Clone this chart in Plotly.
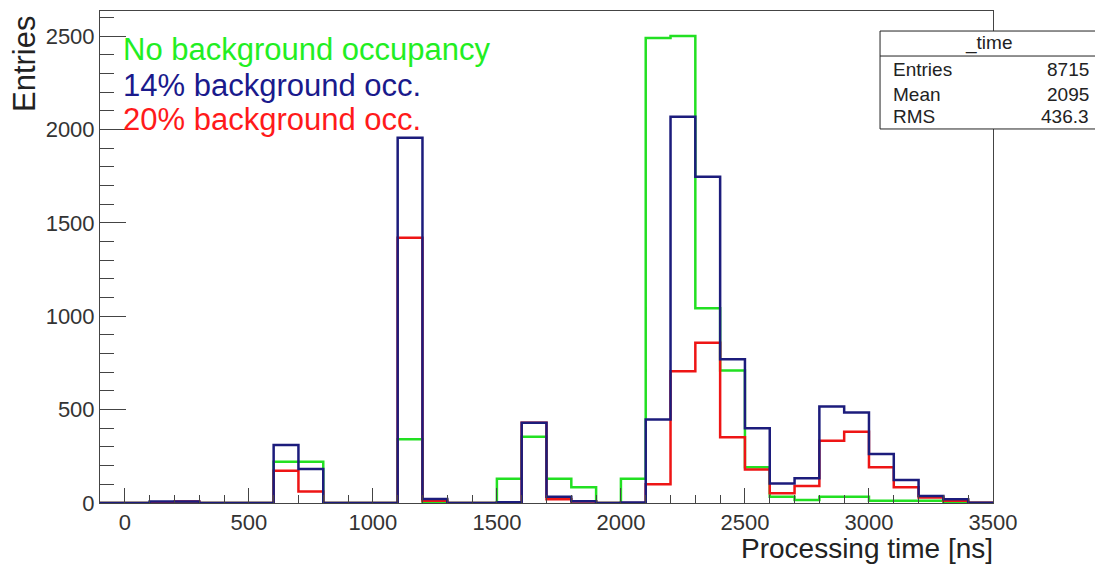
import plotly.graph_objects as go

# Histogram binning: 100 ns bins from -100 to 3500 ns
bin_start = -100
bin_width = 100

no_bkg = [0, 0, 0, 0, 0, 0, 0, 221, 221, 0, 0, 0, 341, 0, 0, 0, 130, 355, 130, 84,
          0, 130, 2490, 2500, 1042, 710, 191, 34, 16, 34, 34, 12, 12, 12, 3, 0]
bkg14 = [0, 0, 8, 8, 0, 0, 0, 310, 182, 0, 0, 0, 1955, 22, 0, 0, 4, 430, 34, 10,
         0, 3, 447, 2068, 1746, 770, 400, 105, 132, 516, 484, 262, 123, 37, 20, 2]
bkg20 = [0, 0, 0, 8, 0, 0, 0, 173, 61, 0, 0, 0, 1420, 12, 0, 0, 0, 430, 20, 8,
         0, 0, 100, 705, 858, 352, 180, 52, 91, 333, 382, 191, 84, 30, 12, 2]

series_names = ["No background occupancy", "14% background occ.", "20% background occ."]
line_colors = ["#22e022", "#1c1c7c", "#ee1515"]
text_colors = ["#22ee22", "#1a1a8c", "#ff1a1a"]

stats_title = "_time"
stats_labels = ["Entries", "Mean", "RMS"]
stats_values = ["8715", "2095", "436.3"]

x_tick_vals = [0, 500, 1000, 1500, 2000, 2500, 3000, 3500]
y_tick_vals = [0, 500, 1000, 1500, 2000, 2500]


def step_xy(values):
    n = len(values)
    xs = [bin_start + i * bin_width for i in range(n + 1)]
    ys = list(values) + [values[-1]]
    return xs, ys


fig = go.Figure()
# draw order: green, red, blue (blue on top)
for vals, name, col in [(no_bkg, series_names[0], line_colors[0]),
                        (bkg20, series_names[2], line_colors[2]),
                        (bkg14, series_names[1], line_colors[1])]:
    xs, ys = step_xy(vals)
    fig.add_trace(go.Scatter(x=xs, y=ys, mode="lines", name=name,
                             line=dict(color=col, width=2.5, shape="hv"),
                             showlegend=False, hoverinfo="skip"))

FONT = "Liberation Sans, Arial, Helvetica, sans-serif"

# the page places the figure 8px from the top-left corner
fig.update_layout(
    width=1095, height=556,
    margin=dict(l=92, r=110, t=3, b=61),
    paper_bgcolor="white", plot_bgcolor="white",
    font=dict(family=FONT, color="#222"),
    showlegend=False,
)

fig.update_xaxes(
    range=[-100, 3500], showgrid=False, zeroline=False,
    showline=True, linecolor="#444", linewidth=1, mirror=True,
    tickmode="array", tickvals=x_tick_vals,
    ticks="inside", ticklen=15, tickcolor="#444", tickwidth=1,
    minor=dict(ticks="inside", dtick=100, tick0=0, ticklen=8, tickcolor="#444", tickwidth=1),
    tickfont=dict(size=22, color="#333", family=FONT),
)
fig.update_yaxes(
    range=[0, 2634], showgrid=False, zeroline=False,
    showline=True, linecolor="#444", linewidth=1, mirror=True,
    tickmode="array", tickvals=y_tick_vals,
    ticks="inside", ticklen=26, tickcolor="#444", tickwidth=1,
    minor=dict(ticks="inside", dtick=100, tick0=0, ticklen=14, tickcolor="#444", tickwidth=1),
    tickfont=dict(size=22, color="#333", family=FONT),
)

# Axis titles (ROOT-style alignment)
fig.add_annotation(xref="paper", yref="paper", x=0, y=1, xanchor="center", yanchor="top",
                   xshift=-76, yshift=-3, text="Entries", textangle=-90, showarrow=False,
                   font=dict(size=31, color="#222", family=FONT))
fig.add_annotation(xref="paper", yref="paper", x=1, y=0, xanchor="right", yanchor="top",
                   yshift=-28, xshift=2, text="Processing time [ns]", showarrow=False,
                   font=dict(size=28, color="#222", family=FONT))

# Legend-like text
legend_y = [0.921, 0.848, 0.780]
for name, col, yy in zip(series_names, text_colors, legend_y):
    fig.add_annotation(xref="paper", yref="paper", x=0.0269, y=yy, xanchor="left",
                       yanchor="middle", xshift=-3, text=name, showarrow=False,
                       font=dict(size=31, color=col, family=FONT))

# Stats box
fig.add_shape(type="rect", xref="paper", yref="paper", x0=0.8735, x1=1.1176,
              y0=0.7602, y1=0.9593, line=dict(color="#222", width=1),
              fillcolor="white", layer="above")
fig.add_shape(type="line", xref="paper", yref="paper", x0=0.8735, x1=1.1176,
              y0=0.9085, y1=0.9085, line=dict(color="#222", width=1), layer="above")
fig.add_annotation(xref="paper", yref="paper", x=0.9955, y=0.935, xanchor="center",
                   yanchor="middle", text=stats_title, showarrow=False,
                   font=dict(size=19, color="#222", family=FONT))
for lab, val, yy in zip(stats_labels, stats_values, [0.8801, 0.8313, 0.7846]):
    fig.add_annotation(xref="paper", yref="paper", x=0.8858, y=yy, xanchor="left",
                       yanchor="middle", text=lab, showarrow=False,
                       font=dict(size=19, color="#222", family=FONT))
    fig.add_annotation(xref="paper", yref="paper", x=1.1098, y=yy, xanchor="right",
                       yanchor="middle", text=val, showarrow=False,
                       font=dict(size=19, color="#222", family=FONT))

fig.write_html("out.html")
